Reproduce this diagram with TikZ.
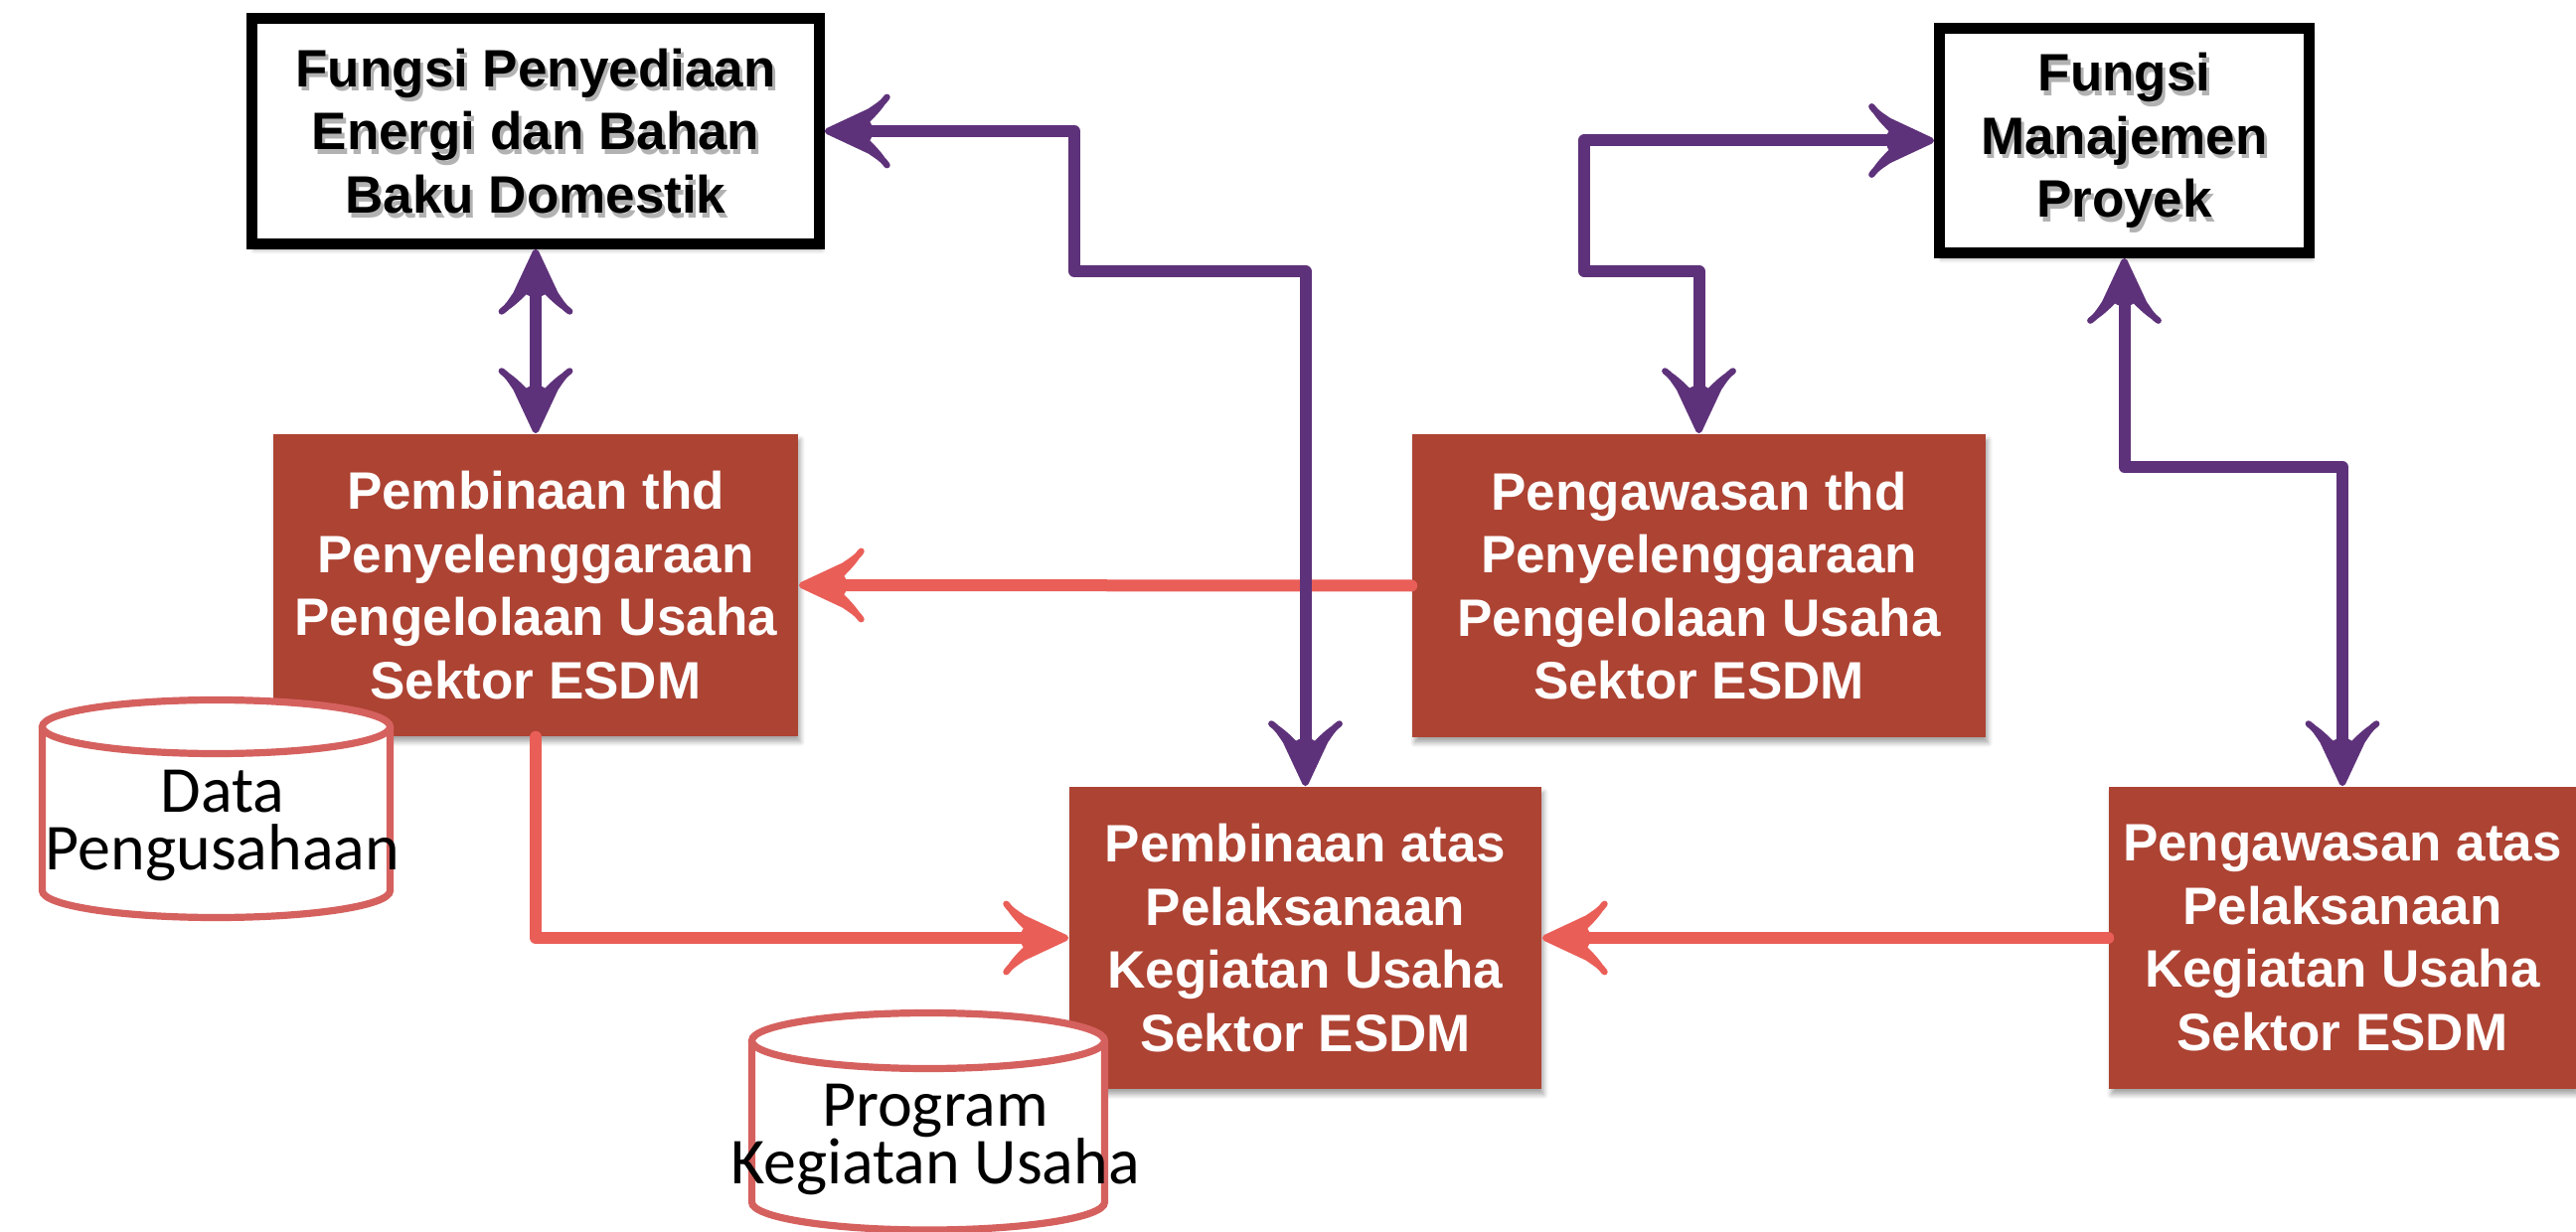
\documentclass[tikz,border=0pt]{standalone}
\usepackage{fontspec}
\setmainfont{Liberation Sans}
\newfontfamily\cylfont{Carlito}
\usetikzlibrary{arrows.meta,shadows.blur}

\definecolor{boxred}{RGB}{173,67,51}
\definecolor{linkred}{RGB}{234,94,88}
\definecolor{cylred}{RGB}{213,97,95}
\definecolor{linkpurple}{RGB}{94,50,122}

\newcommand\tightlines{\lineskiplimit-20pt\relax}

% a hand-drawn looking barbed arrow head: solid core, flared barbs
\pgfdeclarearrow{
  name=Barbed,
  parameters={\the\pgfarrowlength,\the\pgfarrowwidth},
  setup code={
    \pgfarrowssettipend{0.05\pgfarrowlength}
    \pgfarrowssetlineend{-0.6\pgfarrowlength}
    \pgfarrowssetvisualbackend{-\pgfarrowlength}
    \pgfarrowssetbackend{-\pgfarrowlength}
    \pgfarrowshullpoint{0pt}{0pt}
    \pgfarrowsupperhullpoint{-\pgfarrowlength}{.5\pgfarrowwidth}
    \pgfarrowssavethe\pgfarrowlength
    \pgfarrowssavethe\pgfarrowwidth
  },
  drawing code={
    \pgfsetroundjoin
    \pgfsetroundcap
    \pgfsetlinewidth{0.1\pgfarrowlength}
    \pgfpathmoveto{\pgfqpoint{0pt}{0pt}}
    \pgfpathlineto{\pgfqpoint{-0.66\pgfarrowlength}{0.26\pgfarrowwidth}}
    \pgfpathcurveto{\pgfqpoint{-0.78\pgfarrowlength}{0.33\pgfarrowwidth}}
                   {\pgfqpoint{-0.88\pgfarrowlength}{0.38\pgfarrowwidth}}
                   {\pgfqpoint{-0.93\pgfarrowlength}{0.45\pgfarrowwidth}}
    \pgfpathlineto{\pgfqpoint{-0.86\pgfarrowlength}{0.38\pgfarrowwidth}}
    \pgfpathcurveto{\pgfqpoint{-0.78\pgfarrowlength}{0.28\pgfarrowwidth}}
                   {\pgfqpoint{-0.68\pgfarrowlength}{0.2\pgfarrowwidth}}
                   {\pgfqpoint{-0.6\pgfarrowlength}{0.13\pgfarrowwidth}}
    \pgfpathlineto{\pgfqpoint{-0.64\pgfarrowlength}{0.07\pgfarrowwidth}}
    \pgfpathlineto{\pgfqpoint{-0.64\pgfarrowlength}{-0.07\pgfarrowwidth}}
    \pgfpathlineto{\pgfqpoint{-0.6\pgfarrowlength}{-0.13\pgfarrowwidth}}
    \pgfpathcurveto{\pgfqpoint{-0.68\pgfarrowlength}{-0.2\pgfarrowwidth}}
                   {\pgfqpoint{-0.78\pgfarrowlength}{-0.28\pgfarrowwidth}}
                   {\pgfqpoint{-0.86\pgfarrowlength}{-0.38\pgfarrowwidth}}
    \pgfpathlineto{\pgfqpoint{-0.93\pgfarrowlength}{-0.45\pgfarrowwidth}}
    \pgfpathcurveto{\pgfqpoint{-0.88\pgfarrowlength}{-0.38\pgfarrowwidth}}
                   {\pgfqpoint{-0.78\pgfarrowlength}{-0.33\pgfarrowwidth}}
                   {\pgfqpoint{-0.66\pgfarrowlength}{-0.26\pgfarrowwidth}}
    \pgfpathclose
    \pgfusepathqfillstroke
  },
  defaults={length=16pt, width=19pt}
}

\tikzset{
  labelfont/.style={font=\bfseries\fontsize{13.25}{15.9}\selectfont},
  softshadow/.style={blur shadow={shadow xshift=0.6pt, shadow yshift=-1.4pt,
      shadow blur steps=6, shadow blur radius=1.2pt, shadow opacity=35}},
  funcbox/.style={draw=black, line width=2.625pt, fill=white, inner sep=0pt,
      align=center, labelfont, softshadow},
  textshade/.style={align=center, labelfont, text=black, text opacity=0.3},
  taskbox/.style={fill=boxred, text=white, inner sep=0pt, align=center,
      labelfont, softshadow},
  purplelink/.style={color=linkpurple, line width=3pt,
      line join=round, line cap=round,
      arrows={Barbed[length=16pt,width=19pt]-Barbed[length=16pt,width=19pt]}},
  redlink/.style={color=linkred, line width=3pt,
      line join=round, line cap=round,
      arrows={-Barbed[length=16pt,width=19pt]}},
  cylline/.style={draw=cylred, line width=1.8pt, fill=white},
  cyltext/.style={align=center, inner sep=0pt,
      font={\cylfont\fontsize{16.5}{14.5}\selectfont\tightlines}}
}

\begin{document}
\begin{tikzpicture}[x=0.25pt, y=-0.25pt]
  \useasboundingbox (0,0) rectangle (2592,1240);

  % function boxes (black frame) with soft text shadow
  \node[funcbox, minimum width=142.75pt, minimum height=56.75pt] (supply)
    at (539,132) {};
  \node[textshade] (supplyshade) at (542,136.5)
    {Fungsi Penyediaan\\Energi dan Bahan\\Baku Domestik};
  \node[align=center, labelfont] (supplytext) at (539,132)
    {Fungsi Penyediaan\\Energi dan Bahan\\Baku Domestik};

  \node[funcbox, minimum width=93.1pt, minimum height=56.6pt] (project)
    at (2137.5,141.5) {};
  \node[textshade] (projectshade) at (2140.5,146) {Fungsi\\Manajemen\\Proyek};
  \node[align=center, labelfont] (projecttext) at (2137.5,141.5)
    {Fungsi\\Manajemen\\Proyek};

  % task boxes
  \node[taskbox, minimum width=132pt, minimum height=76pt] (guideA)
    at (539,589) {Pembinaan thd\\Penyelenggaraan\\Pengelolaan Usaha\\Sektor ESDM};
  \node[taskbox, minimum width=144.25pt, minimum height=76.25pt] (watchA)
    at (1709.5,589.5) {Pengawasan thd\\Penyelenggaraan\\Pengelolaan Usaha\\Sektor ESDM};
  \node[taskbox, minimum width=118.75pt, minimum height=76pt] (guideB)
    at (1313.5,944) {Pembinaan atas\\Pelaksanaan\\Kegiatan Usaha\\Sektor ESDM};
  \node[taskbox, minimum width=117.5pt, minimum height=76pt] (watchB)
    at (2357,944) {Pengawasan atas\\Pelaksanaan\\Kegiatan Usaha\\Sektor ESDM};

  % red links
  \draw[redlink] (watchA.west) -- (guideA.east);
  \draw[redlink] (guideA.south) |- (guideB.west);
  \draw[redlink] (watchB.west) -- (guideB.east);

  % purple links
  \coordinate (bendA) at (1081,273);
  \coordinate (bendB) at (1594,273);
  \coordinate (bendC) at (2357,470);
  \draw[purplelink] (supply.south) -- (guideA.north);
  \draw[purplelink] (supply.east) -| (bendA) -| (guideB.north);
  \draw[purplelink] (project.west) -| (bendB) -| (watchA.north);
  \draw[purplelink] (project.south) |- (bendC) -- (watchB.north);

  % data stores
  \draw[cylline] (42.5,731.5) -- (42.5,896.5)
    arc[start angle=180, end angle=0, x radius=175, y radius=27]
    -- (392.5,731.5);
  \draw[cylline] (217.5,731.5) ellipse [x radius=175, y radius=27];
  \node[cyltext] (datastore) at (224,830.5) {Data\\Pengusahaan};

  \draw[cylline] (756.5,1047.5) -- (756.5,1210)
    arc[start angle=180, end angle=0, x radius=177.5, y radius=28]
    -- (1111.5,1047.5);
  \draw[cylline] (934,1047.5) ellipse [x radius=177.5, y radius=28];
  \node[cyltext] (programstore) at (941,1146.5) {Program\\Kegiatan Usaha};
\end{tikzpicture}
\end{document}
